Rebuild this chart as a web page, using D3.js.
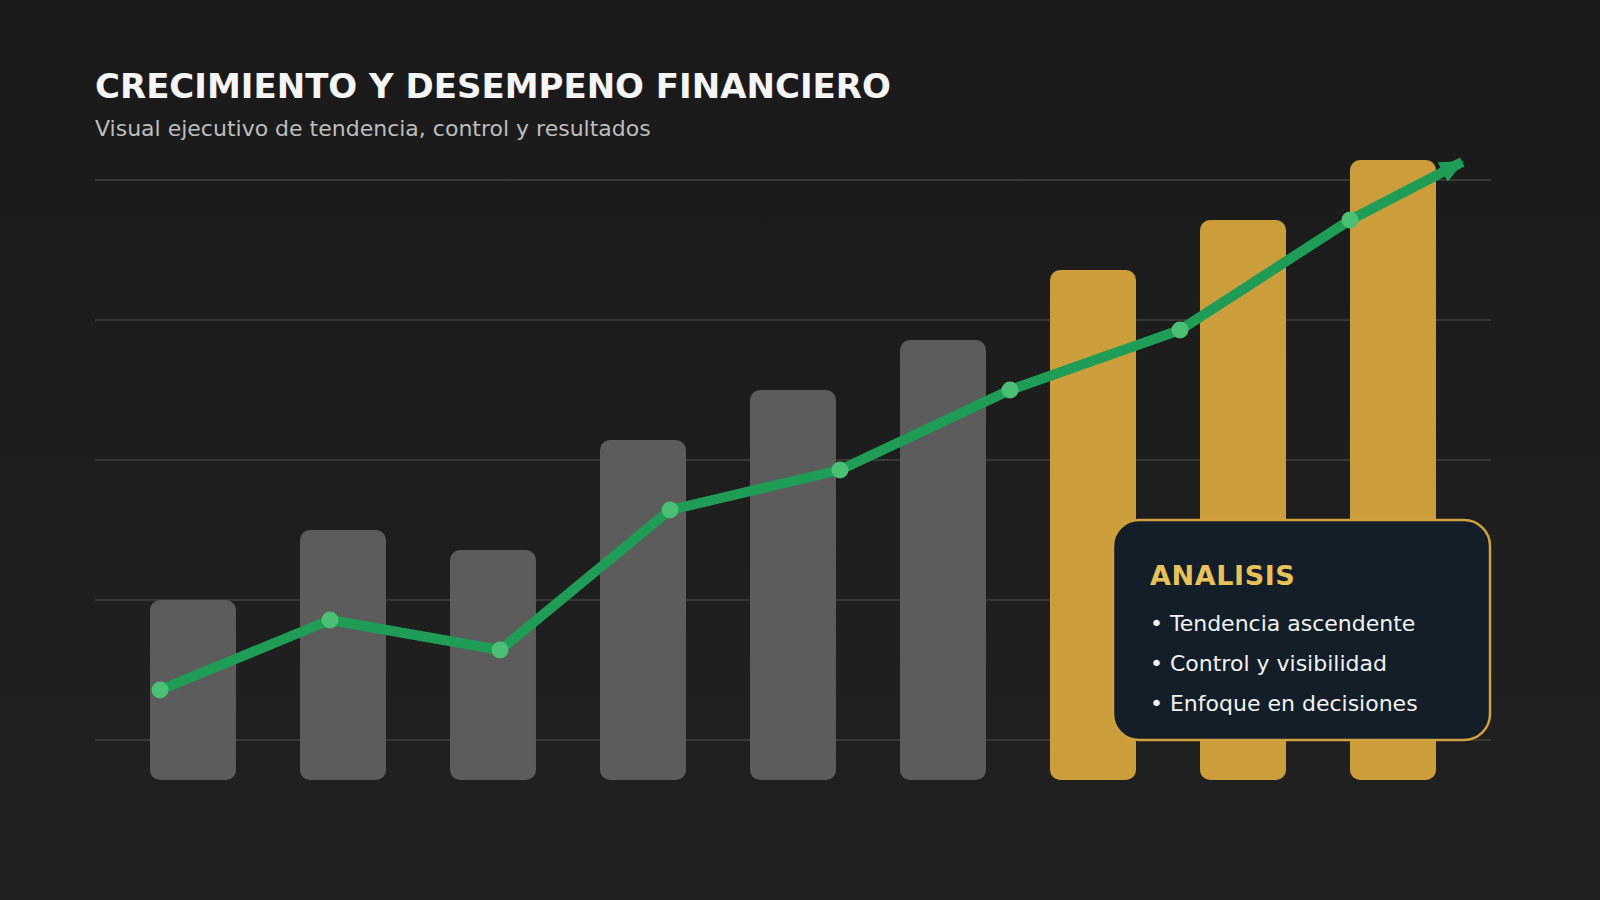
<!DOCTYPE html>
<html><head><meta charset="utf-8">
<script src="https://cdn.jsdelivr.net/npm/d3@7"></script>
<style>html,body{margin:0;padding:0;background:#1b1b1b;}svg{display:block;font-family:"DejaVu Sans",sans-serif;}</style>
</head><body>
<svg id="c" width="1600" height="900"></svg>
<script>
const categories = ["P1","P2","P3","P4","P5","P6","P7","P8","P9"];
const barValues = [18,25,23,34,39,44,51,56,62];
const highlight = [false,false,false,false,false,false,true,true,true];
const lineIndex = [0,1,2,3,4,5,6,7];
const lineValues = [9,16,13,27,31,39,45,56];
const trendEnd = {i:7.66, v:61.8};
const gridValues = [4,18,32,46,60];
const title = "CRECIMIENTO Y DESEMPENO FINANCIERO";
const subtitle = "Visual ejecutivo de tendencia, control y resultados";
const boxTitle = "ANALISIS";
const bullets = ["• Tendencia ascendente","• Control y visibilidad","• Enfoque en decisiones"];

const svg = d3.select("#c");
const defs = svg.append("defs");
const bg = defs.append("linearGradient").attr("id","bg").attr("x1",0).attr("y1",0).attr("x2",0).attr("y2",1);
bg.append("stop").attr("offset","0%").attr("stop-color","#1a1a1a");
bg.append("stop").attr("offset","100%").attr("stop-color","#212121");
svg.append("rect").attr("width",1600).attr("height",900).attr("fill","url(#bg)");

const y = d3.scaleLinear().domain([0,60]).range([780,180]);
const x = d3.scaleBand().domain(categories).range([118,1468]).paddingInner(0.4267).paddingOuter(0.21335);
const xl = d3.scaleLinear().domain([0,7]).range([160,1350]);

// title
svg.append("text").attr("x",95).attr("y",98).attr("fill","#f5f5f5").attr("font-size",34).attr("font-weight","bold").text(title);
svg.append("text").attr("x",95).attr("y",136).attr("fill","#bdbdbd").attr("font-size",22).text(subtitle);

// grid
svg.append("g").selectAll("line").data(gridValues).join("line")
  .attr("x1",95).attr("x2",1491)
  .attr("y1",d=>y(d)).attr("y2",d=>y(d))
  .attr("stroke","#383838").attr("stroke-width",2);

// bars
svg.append("g").selectAll("rect").data(barValues).join("rect")
  .attr("x",(d,i)=>x(categories[i]))
  .attr("y",d=>y(d))
  .attr("width",x.bandwidth())
  .attr("height",d=>y(0)-y(d))
  .attr("rx",10).attr("ry",10)
  .attr("fill",(d,i)=>highlight[i]?"#cc9e3b":"#5c5c5c");

// box
const bx=1113, by=520, bw=377, bh=220;
svg.append("rect").attr("x",bx).attr("y",by).attr("width",bw).attr("height",bh)
  .attr("rx",26).attr("ry",26).attr("fill","#131e29").attr("stroke","#cfa03c").attr("stroke-width",2.5);
svg.append("text").attr("x",bx+37).attr("y",by+65).attr("fill","#e9c15a").attr("font-size",27)
  .attr("font-weight","bold").attr("letter-spacing",0.6).text(boxTitle);
svg.append("g").selectAll("text").data(bullets).join("text")
  .attr("x",bx+37).attr("y",(d,i)=>by+111+i*40)
  .attr("fill","#f2f2f2").attr("font-size",22).text(d=>d);

// trend line
defs.append("marker").attr("id","arrow").attr("markerUnits","userSpaceOnUse")
  .attr("viewBox","0 0 24 22").attr("refX",22).attr("refY",11)
  .attr("markerWidth",24).attr("markerHeight",22).attr("orient","auto")
  .append("path").attr("d","M0,0 L24,11 L0,22 Z").attr("fill","#1f9d57");

const pts = lineIndex.map((d,i)=>[xl(d), y(lineValues[i])]);
pts.push([xl(trendEnd.i), y(trendEnd.v)]);
svg.append("path").attr("d", d3.line()(pts))
  .attr("fill","none").attr("stroke","#1f9d57").attr("stroke-width",10)
  .attr("stroke-linejoin","round").attr("marker-end","url(#arrow)");

svg.append("g").selectAll("circle").data(lineValues).join("circle")
  .attr("cx",(d,i)=>xl(lineIndex[i])).attr("cy",d=>y(d)).attr("r",8.5).attr("fill","#4bbf73");
</script>
</body></html>
